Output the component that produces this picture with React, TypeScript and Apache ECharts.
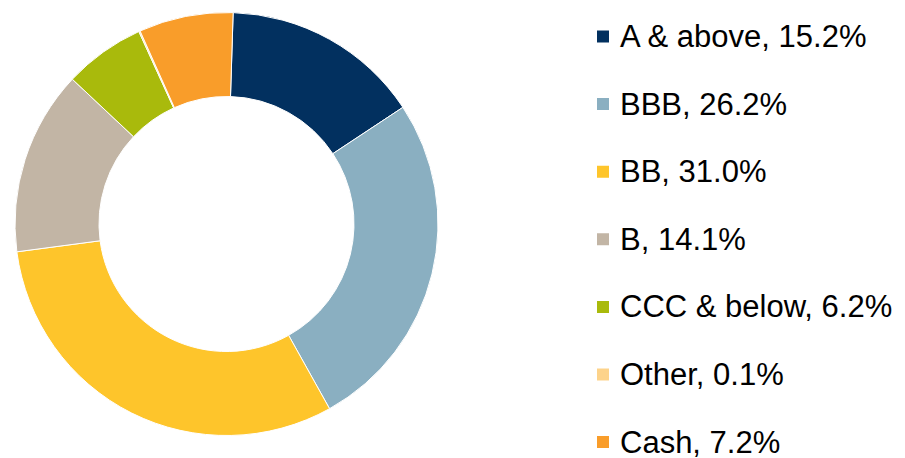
import React, { useEffect, useRef } from "react";
import * as echarts from "echarts";

const categories = ["A & above", "BBB", "BB", "B", "CCC & below", "Other", "Cash"];
const values = [15.2, 26.2, 31.0, 14.1, 6.2, 0.1, 7.2];
const colors = ["#02305F", "#8AAFC1", "#FEC52B", "#C2B5A5", "#A9BA0C", "#FDD38A", "#F99D2A"];

export default function App() {
  const ref = useRef<HTMLDivElement>(null);
  useEffect(() => {
    if (!ref.current) return;
    const chart = echarts.init(ref.current, null, { renderer: "svg" });
    const data = categories.map((name, i) => ({
      name,
      value: values[i],
      itemStyle: { color: colors[i] },
    }));
    chart.setOption({
      animation: false,
      legend: {
        orient: "vertical",
        left: 595,
        top: 21,
        height: 480,
        padding: 0,
        icon: "rect",
        itemWidth: 14,
        itemHeight: 14,
        itemGap: 36.6,
        selectedMode: false,
        data: categories,
        formatter: (name: string) => {
          const i = categories.indexOf(name);
          return `${name}, ${values[i].toFixed(1)}%`;
        },
        textStyle: {
          fontFamily: "'Liberation Sans', Arial, sans-serif",
          fontSize: 31,
          color: "#000000",
          padding: [0, 0, 0, 5],
        },
      },
      series: [
        {
          type: "pie",
          center: [226.5, 224],
          radius: [127.5, 211.5],
          startAngle: 88.2,
          clockwise: true,
          label: { show: false },
          labelLine: { show: false },
          emphasis: { disabled: true },
          itemStyle: { borderColor: "#ffffff", borderWidth: 1 },
          data,
        },
      ],
    });
    return () => chart.dispose();
  }, []);
  return (
    <div
      ref={ref}
      style={{ position: "fixed", left: 0, top: 0, width: 905, height: 458, background: "#ffffff" }}
    />
  );
}
